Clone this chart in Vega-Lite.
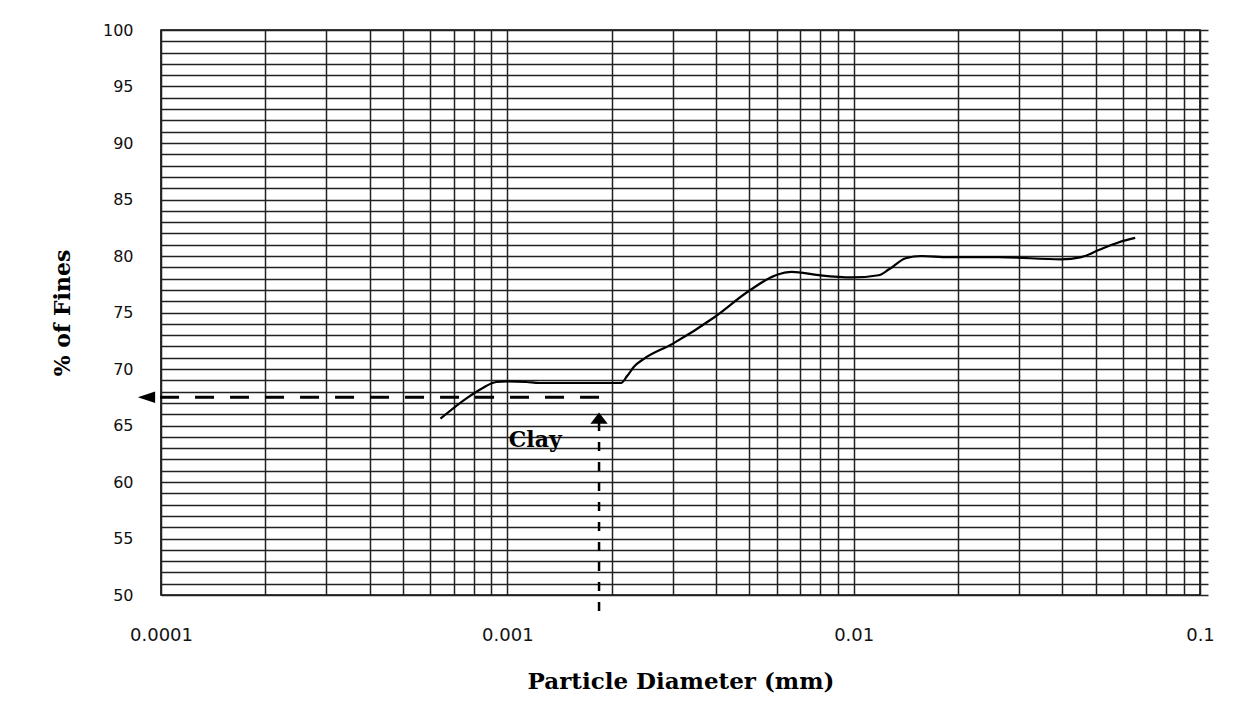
{
  "$schema": "https://vega.github.io/schema/vega-lite/v6.json",
  "width": 1039,
  "height": 565,
  "autosize": {"type": "none"},
  "padding": {"left": 161, "top": 30, "right": 54, "bottom": 124},
  "background": "white",
  "config": {
    "view": {"stroke": "#000", "strokeWidth": 1.6},
    "axis": {"gridOpacity": 1}
  },
  "datasets": {
    "curve": [
      {"d": 0.000641, "p": 65.6},
      {"d": 0.000762, "p": 67.4},
      {"d": 0.000847, "p": 68.3},
      {"d": 0.000929, "p": 68.85},
      {"d": 0.001, "p": 68.9},
      {"d": 0.001135, "p": 68.85},
      {"d": 0.001237, "p": 68.76},
      {"d": 0.00213, "p": 68.76},
      {"d": 0.00222, "p": 69.4},
      {"d": 0.00232, "p": 70.2},
      {"d": 0.00248, "p": 70.9},
      {"d": 0.00299, "p": 72.2},
      {"d": 0.00397, "p": 74.6},
      {"d": 0.00498, "p": 76.9},
      {"d": 0.00596, "p": 78.3},
      {"d": 0.00663, "p": 78.6},
      {"d": 0.00793, "p": 78.3},
      {"d": 0.00987, "p": 78.1},
      {"d": 0.0118, "p": 78.3},
      {"d": 0.01262, "p": 78.8},
      {"d": 0.01413, "p": 79.8},
      {"d": 0.0157, "p": 80.0},
      {"d": 0.0188, "p": 79.9},
      {"d": 0.0262, "p": 79.9},
      {"d": 0.0397, "p": 79.7},
      {"d": 0.0454, "p": 79.9},
      {"d": 0.0508, "p": 80.5},
      {"d": 0.0581, "p": 81.2},
      {"d": 0.065, "p": 81.6}
    ],
    "hGuide": [
      {"d": 0.00184, "p": 67.5, "o": 1},
      {"d": 0.0000961, "p": 67.5, "o": 2}
    ],
    "vGuide": [
      {"d": 0.00184, "p": 65.3, "o": 1},
      {"d": 0.00184, "p": 47.6, "o": 2}
    ],
    "heads": [
      {"d": 0.0000908, "p": 67.5, "s": "M-1,0L1,-0.65L1,0.65Z"},
      {"d": 0.00184, "p": 65.66, "s": "M0,-0.65L-1,0.65L1,0.65Z"}
    ],
    "notes": [
      {"d": 0.001204, "p": 63.7, "t": "Clay"}
    ]
  },
  "layer": [
    {
      "data": {"name": "curve"},
      "mark": {"type": "line", "color": "#000", "strokeWidth": 2.2, "interpolate": "monotone"},
      "encoding": {
        "x": {
          "field": "d", "type": "quantitative",
          "scale": {"type": "log", "domain": [0.0001, 0.1], "nice": false},
          "axis": {
            "title": "Particle Diameter (mm)",
            "values": [0.0001, 0.0002, 0.0003, 0.0004, 0.0005, 0.0006, 0.0007, 0.0008, 0.0009,
                       0.001, 0.002, 0.003, 0.004, 0.005, 0.006, 0.007, 0.008, 0.009,
                       0.01, 0.02, 0.03, 0.04, 0.05, 0.06, 0.07, 0.08, 0.09, 0.1],
            "format": ".4~f",
            "labelExpr": "abs(log(datum.value)/LN10 - round(log(datum.value)/LN10)) < 0.001 ? datum.label : ''",
            "grid": true, "gridColor": "#222", "gridWidth": 1.5,
            "ticks": false, "tickSize": 0, "domain": false,
            "labelFont": "DejaVu Sans", "labelFontSize": 18, "labelColor": "#111",
            "labelPadding": 31, "labelBaseline": "top", "labelOverlap": false, "labelFlush": false,
            "titleFont": "DejaVu Serif", "titleFontSize": 23, "titleFontWeight": "bold", "titleColor": "#000",
            "titleY": 93, "titleBaseline": "alphabetic"
          }
        },
        "y": {
          "field": "p", "type": "quantitative",
          "scale": {"domain": [50, 100], "nice": false, "zero": false},
          "axis": {
            "orient": "left",
            "title": "% of Fines",
            "tickCount": 50,
            "labelExpr": "datum.value % 5 === 0 ? datum.label : ''",
            "grid": true, "gridColor": "#222", "gridWidth": 1.5,
            "ticks": false, "tickSize": 0, "domain": false,
            "labelFont": "DejaVu Sans", "labelFontSize": 16, "labelColor": "#111",
            "labelPadding": 28, "labelOverlap": false, "labelFlush": false,
            "titleFont": "DejaVu Serif", "titleFontSize": 22, "titleFontWeight": "bold", "titleColor": "#000",
            "titleX": -99, "titleBaseline": "middle"
          }
        }
      }
    },
    {
      "data": {"name": "hGuide"},
      "mark": {"type": "line", "color": "#000", "strokeWidth": 3, "strokeDash": [19, 16], "clip": false},
      "encoding": {
        "x": {"field": "d", "type": "quantitative", "scale": {"type": "log", "domain": [0.0001, 0.1], "nice": false}},
        "y": {"field": "p", "type": "quantitative", "scale": {"domain": [50, 100], "nice": false, "zero": false}, "axis": null},
        "order": {"field": "o"}
      }
    },
    {
      "data": {"name": "vGuide"},
      "mark": {"type": "line", "color": "#000", "strokeWidth": 2.5, "strokeDash": [9, 11], "clip": false},
      "encoding": {
        "x": {"field": "d", "type": "quantitative", "scale": {"type": "log", "domain": [0.0001, 0.1], "nice": false}},
        "y": {"field": "p", "type": "quantitative", "scale": {"domain": [50, 100], "nice": false, "zero": false}, "axis": null},
        "order": {"field": "o"}
      }
    },
    {
      "data": {"name": "heads"},
      "mark": {"type": "point", "filled": true, "color": "#000", "opacity": 1, "size": 300, "clip": false},
      "encoding": {
        "x": {"field": "d", "type": "quantitative", "scale": {"type": "log", "domain": [0.0001, 0.1], "nice": false}},
        "y": {"field": "p", "type": "quantitative", "scale": {"domain": [50, 100], "nice": false, "zero": false}, "axis": null},
        "shape": {"field": "s", "type": "nominal", "scale": null}
      }
    },
    {
      "data": {"name": "notes"},
      "mark": {"type": "text", "font": "DejaVu Serif", "fontSize": 22, "fontWeight": "bold", "color": "#000", "align": "center", "baseline": "middle"},
      "encoding": {
        "x": {"field": "d", "type": "quantitative", "scale": {"type": "log", "domain": [0.0001, 0.1], "nice": false}},
        "y": {
          "field": "p", "type": "quantitative",
          "scale": {"domain": [50, 100], "nice": false, "zero": false},
          "axis": {
            "orient": "right", "title": null, "tickCount": 50,
            "labels": false, "grid": false, "domain": false,
            "ticks": true, "tickSize": 8, "tickColor": "#222", "tickWidth": 1.5
          }
        },
        "text": {"field": "t"}
      }
    }
  ],
  "resolve": {"axis": {"y": "independent"}}
}
